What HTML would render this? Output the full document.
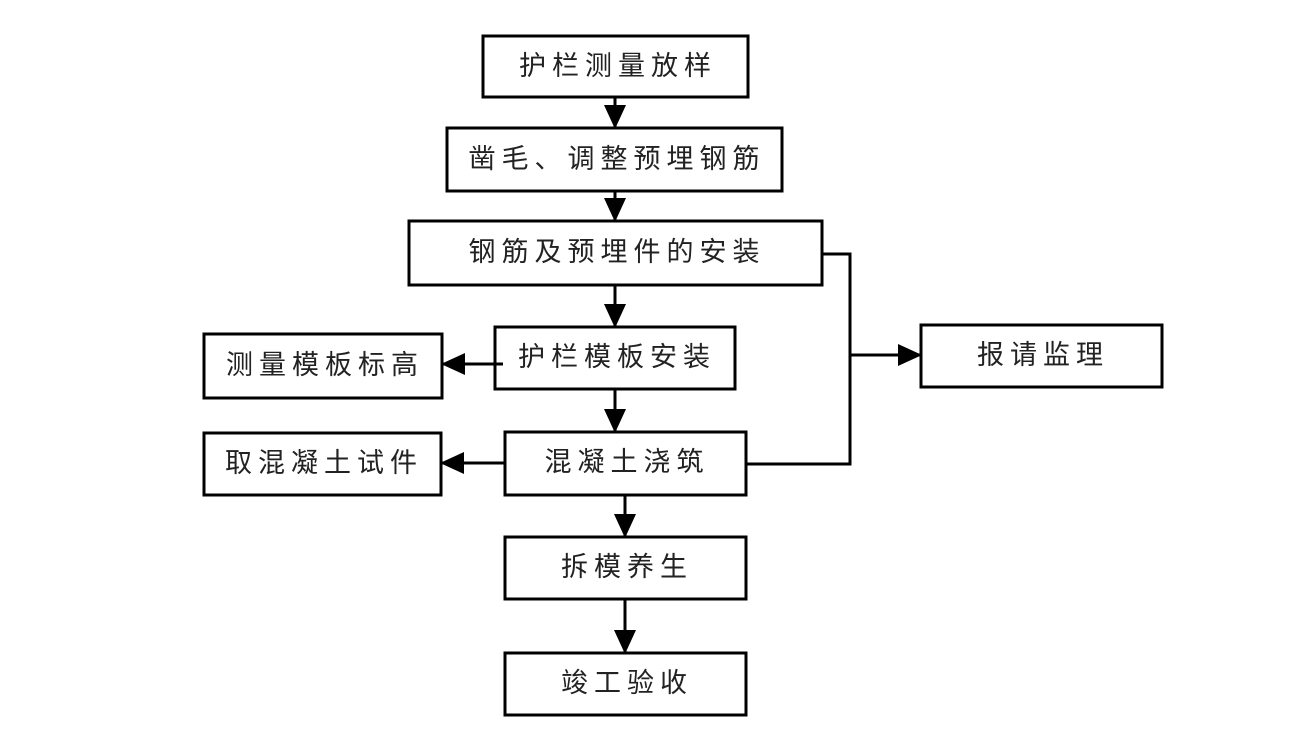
<!DOCTYPE html>
<html><head><meta charset="utf-8"><style>
html,body{margin:0;padding:0;background:#fff;}
svg text{font-family:"Liberation Sans","Noto Sans CJK SC",sans-serif;font-size:27px;fill:#222;letter-spacing:6px;text-anchor:middle;dominant-baseline:central;}
</style></head><body>
<svg width="1298" height="742" viewBox="0 0 1298 742" xmlns="http://www.w3.org/2000/svg">
<defs><marker id="a" markerUnits="userSpaceOnUse" markerWidth="24" markerHeight="24" refX="22" refY="12" orient="auto"><path d="M0,1 L24,12 L0,23 Z" fill="#000"/></marker></defs>
<g fill="none" stroke="#000" stroke-width="3">
<rect x="483" y="36" width="265" height="61"/>
<rect x="447" y="128" width="335" height="63"/>
<rect x="409" y="221" width="413" height="64"/>
<rect x="495" y="327" width="240" height="62"/>
<rect x="204" y="334" width="238" height="64"/>
<rect x="921" y="325" width="241" height="62"/>
<rect x="505" y="432" width="241" height="63"/>
<rect x="204" y="433" width="237" height="62"/>
<rect x="505" y="537" width="241" height="62"/>
<rect x="505" y="653" width="241" height="62"/>
<line x1="615" y1="97" x2="615" y2="127" marker-end="url(#a)"/>
<line x1="615" y1="191" x2="615" y2="220" marker-end="url(#a)"/>
<line x1="615" y1="285" x2="615" y2="326" marker-end="url(#a)"/>
<line x1="615" y1="389" x2="615" y2="431" marker-end="url(#a)"/>
<line x1="625" y1="495" x2="625" y2="536" marker-end="url(#a)"/>
<line x1="625" y1="599" x2="625" y2="652" marker-end="url(#a)"/>
<line x1="503" y1="364" x2="443" y2="364" marker-end="url(#a)"/>
<line x1="505" y1="463" x2="442" y2="463" marker-end="url(#a)"/>
<polyline points="822,254 850,254 850,464 746,464"/>
<line x1="850" y1="355" x2="920" y2="355" marker-end="url(#a)"/>
</g>
<text x="618" y="66">护栏测量放样</text>
<text x="617" y="159">凿毛、调整预埋钢筋</text>
<text x="617" y="252">钢筋及预埋件的安装</text>
<text x="617" y="357">护栏模板安装</text>
<text x="325" y="365">测量模板标高</text>
<text x="1043" y="355">报请监理</text>
<text x="627" y="462">混凝土浇筑</text>
<text x="324" y="463">取混凝土试件</text>
<text x="627" y="567">拆模养生</text>
<text x="627" y="683">竣工验收</text>
</svg>
</body></html>
